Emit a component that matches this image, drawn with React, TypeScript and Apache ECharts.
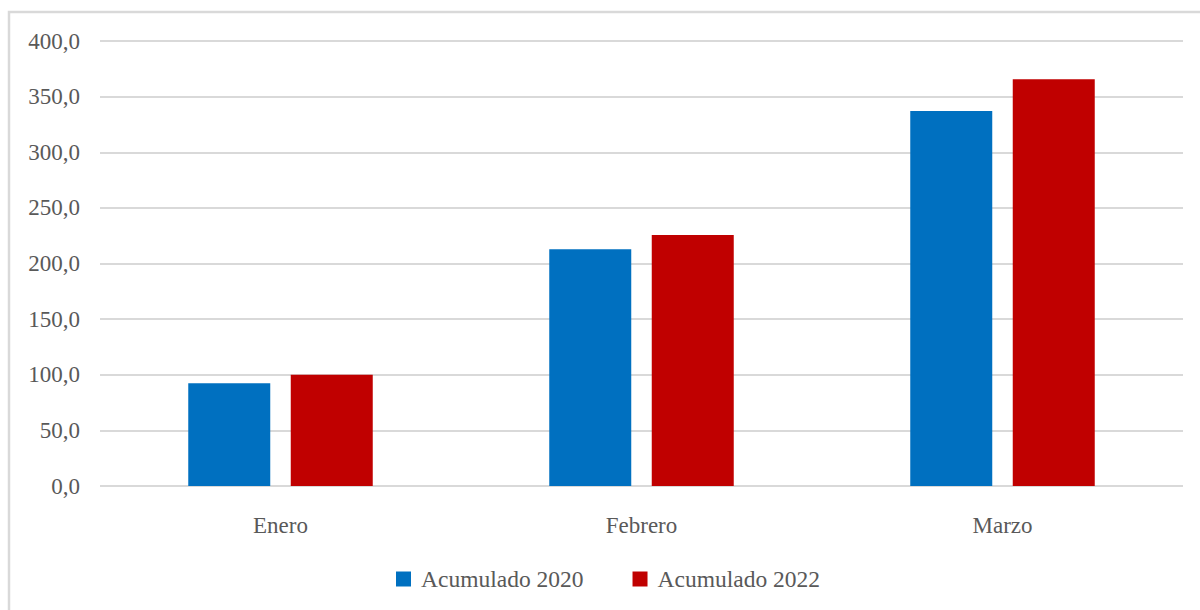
import React, { useEffect, useRef } from "react";
import * as echarts from "echarts";

const categories = ["Enero", "Febrero", "Marzo"];
const acumulado2020 = [92.3, 212.8, 337.1];
const acumulado2022 = [100.0, 225.6, 365.6];
const seriesNames = ["Acumulado 2020", "Acumulado 2022"];
const colors = ["#0070C0", "#C00000"];

const FONT = "'Liberation Serif', 'Times New Roman', serif";
const TEXT = "#595959";

export default function App() {
  const ref = useRef<HTMLDivElement>(null);
  useEffect(() => {
    if (!ref.current) return;
    const chart = echarts.init(ref.current, null, { renderer: "svg" });
    chart.setOption({
      animation: false,
      backgroundColor: "#ffffff",
      textStyle: { fontFamily: FONT },
      graphic: [
        {
          type: "rect",
          shape: { x: 9, y: 12, width: 1200, height: 620 },
          style: { fill: "none", stroke: "#d9d9d9", lineWidth: 2.5 },
          silent: true,
        },
      ],
      grid: { left: 100, right: 17, top: 41, bottom: 124, containLabel: false },
      legend: {
        data: seriesNames,
        left: 391,
        top: 562,
        itemWidth: 15,
        itemHeight: 15,
        itemGap: 49,
        icon: "rect",
        textStyle: { fontFamily: FONT, fontSize: 23.5, color: TEXT, padding: [0, 0, 0, 5] },
      },
      xAxis: {
        type: "category",
        data: categories,
        axisLine: { show: false },
        axisTick: { show: false },
        axisLabel: { fontFamily: FONT, fontSize: 23, color: TEXT, margin: 28 },
      },
      yAxis: {
        type: "value",
        min: 0,
        max: 400,
        interval: 50,
        axisLine: { show: false },
        axisTick: { show: false },
        splitLine: { lineStyle: { color: "#d9d9d9", width: 2 } },
        axisLabel: {
          fontFamily: FONT,
          fontSize: 23,
          color: TEXT,
          margin: 20,
          formatter: (v: number) => v.toFixed(1).replace(".", ","),
        },
      },
      series: [
        {
          name: seriesNames[0],
          type: "bar",
          data: acumulado2020,
          barWidth: 82,
          barGap: "25%",
          itemStyle: { color: colors[0] },
        },
        {
          name: seriesNames[1],
          type: "bar",
          data: acumulado2022,
          barWidth: 82,
          barGap: "25%",
          itemStyle: { color: colors[1] },
        },
      ],
    });
    return () => chart.dispose();
  }, []);
  return (
    <div
      ref={ref}
      style={{ position: "fixed", left: 0, top: 0, width: 1200, height: 610 }}
    />
  );
}
